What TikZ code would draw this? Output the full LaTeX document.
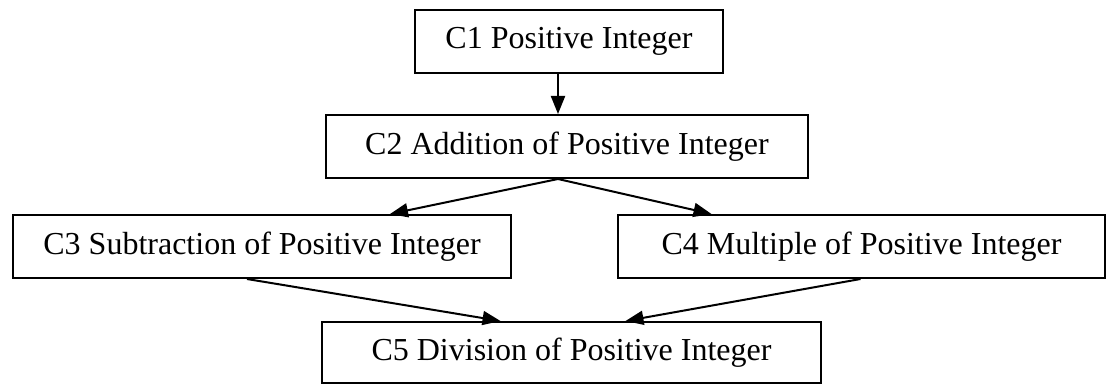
\documentclass[tikz,border=0pt]{standalone}
\usepackage{fontspec}
\setmainfont{Liberation Serif}
\usetikzlibrary{arrows.meta}
\begin{document}
\begin{tikzpicture}[x=1pt,y=-1pt,
  box/.style={draw=black, line width=2pt, fill=white, inner sep=0pt,
    minimum height=63pt, font=\fontsize{32}{38}\selectfont},
  link/.style={line width=2pt, -{Triangle[length=18pt,width=14pt]}}]
  \useasboundingbox (0,0) rectangle (1108,385);
  % concept boxes
  \node[box, minimum width=308pt] (c1) at (569,41.5) {C1 Positive Integer};
  \node[box, minimum width=482pt] (c2) at (567,146.5) {C2 Addition of Positive Integer};
  \node[box, minimum width=498pt] (c3) at (262,246.5) {C3 Subtraction of Positive Integer};
  \node[box, minimum width=487pt] (c4) at (861.5,246.5) {C4 Multiple of Positive Integer};
  \node[box, minimum width=499pt, minimum height=61pt] (c5) at (571.5,352.5) {C5 Division of Positive Integer};
  % prerequisite links
  \draw[link] ([xshift=-11pt]c1.south) -- ([xshift=-9pt]c2.north);
  \draw[link] ([xshift=-9pt]c2.south) -- ([xshift=128pt]c3.north);
  \draw[link] ([xshift=-9pt]c2.south) -- ([xshift=-150pt]c4.north);
  \draw[link] ([xshift=-15pt]c3.south) -- ([xshift=-71pt]c5.north);
  \draw[link] ([xshift=-1pt]c4.south) -- ([xshift=54pt]c5.north);
\end{tikzpicture}
\end{document}
